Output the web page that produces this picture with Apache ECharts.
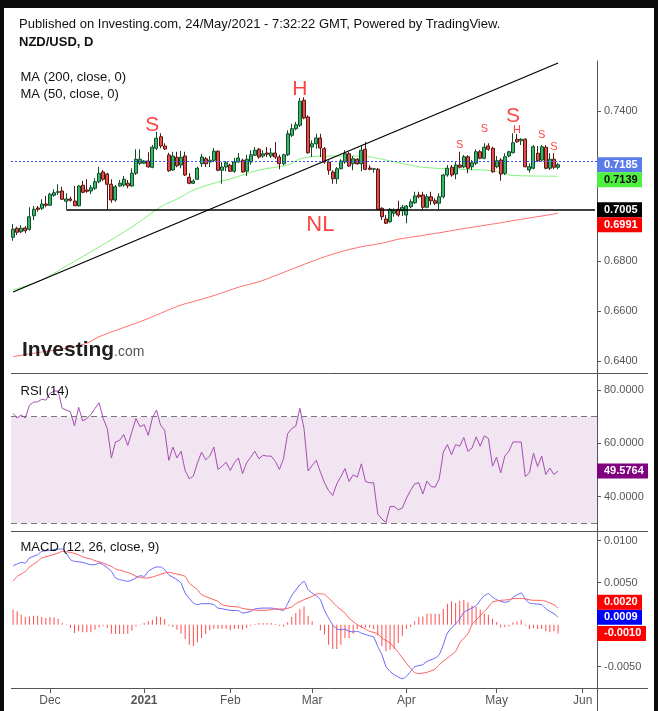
<!DOCTYPE html>
<html>
<head>
<meta charset="utf-8">
<script src="https://cdn.jsdelivr.net/npm/echarts@6.0.0/dist/echarts.min.js"></script>
<style>
html,body{margin:0;padding:0;background:#fff;}
#chart{width:658px;height:711px;}
</style>
</head>
<body>
<div id="chart"></div>
<script>
// ---------------- data ----------------
const startDate = '2020-11-18';
const categoryCount = 143;
const tickDates  = ['2020-12-01','2021-01-01','2021-02-01','2021-03-01','2021-04-01','2021-05-03','2021-06-01'];
const tickLabels = ['Dec','2021','Feb','Mar','Apr','May','Jun'];

const opens = [0.6895,0.6931,0.6917,0.6932,0.6927,0.6981,0.7012,0.7011,0.7028,0.7023,
0.7063,0.7075,0.7080,0.7039,0.7048,0.7040,0.7021,0.7103,0.7084,0.7080,
0.7091,0.7117,0.7156,0.7148,0.7107,0.7044,0.7100,0.7104,0.7111,0.7100,
0.7151,0.7191,0.7191,0.7200,0.7175,0.7251,0.7297,0.7260,0.7224,0.7164,
0.7215,0.7184,0.7220,0.7135,0.7111,0.7127,0.7189,0.7209,0.7196,0.7203,
0.7239,0.7163,0.7176,0.7183,0.7159,0.7196,0.7203,0.7159,0.7196,0.7223,
0.7247,0.7220,0.7232,0.7220,0.7232,0.7216,0.7189,0.7225,0.7303,0.7329,
0.7343,0.7443,0.7376,0.7256,0.7269,0.7292,0.7249,0.7196,0.7156,0.7129,
0.7169,0.7196,0.7229,0.7189,0.7207,0.7189,0.7247,0.7172,0.7167,0.7167,
0.7011,0.6968,0.6957,0.6991,0.7007,0.7001,0.6984,0.7017,0.7033,0.7064,
0.7064,0.7015,0.7057,0.7041,0.7031,0.7057,0.7144,0.7175,0.7148,0.7184,
0.7177,0.7217,0.7177,0.7191,0.7237,0.7211,0.7260,0.7251,0.7177,0.7204,
0.7151,0.7220,0.7233,0.7287,0.7281,0.7287,0.7164,0.7171,0.7231,0.7204,
0.7255,0.7171,0.7207,0.7175];
const closes = [0.6927,0.6915,0.6931,0.6921,0.6977,0.7007,0.7007,0.7028,0.7023,0.7067,
0.7073,0.7077,0.7047,0.7048,0.7043,0.7021,0.7100,0.7075,0.7079,0.7093,
0.7117,0.7151,0.7127,0.7107,0.7044,0.7097,0.7111,0.7127,0.7101,0.7151,
0.7207,0.7207,0.7200,0.7177,0.7255,0.7291,0.7260,0.7248,0.7161,0.7220,
0.7181,0.7215,0.7144,0.7111,0.7120,0.7171,0.7216,0.7189,0.7203,0.7239,
0.7163,0.7176,0.7193,0.7159,0.7196,0.7212,0.7156,0.7207,0.7225,0.7243,
0.7216,0.7229,0.7227,0.7232,0.7216,0.7189,0.7225,0.7309,0.7329,0.7345,
0.7439,0.7372,0.7233,0.7269,0.7292,0.7252,0.7196,0.7163,0.7129,0.7169,
0.7200,0.7229,0.7180,0.7209,0.7189,0.7243,0.7167,0.7167,0.7169,0.7007,
0.6977,0.6951,0.7007,0.7001,0.6984,0.7015,0.7020,0.7037,0.7060,0.7057,
0.7015,0.7057,0.7041,0.7031,0.7057,0.7144,0.7171,0.7144,0.7184,0.7175,
0.7217,0.7171,0.7193,0.7237,0.7211,0.7255,0.7247,0.7157,0.7201,0.7148,
0.7217,0.7237,0.7273,0.7277,0.7287,0.7177,0.7177,0.7257,0.7201,0.7257,
0.7171,0.7207,0.7175,0.7185];
const lows = [0.6881,0.6904,0.6911,0.6911,0.6921,0.6964,0.6997,0.7004,0.7015,0.7020,
0.7057,0.7064,0.7044,0.7007,0.7037,0.7020,0.7017,0.7071,0.7073,0.7068,
0.7084,0.7111,0.7120,0.7007,0.7033,0.7037,0.7097,0.7097,0.7091,0.7097,
0.7144,0.7184,0.7188,0.7173,0.7171,0.7244,0.7251,0.7244,0.7157,0.7160,
0.7175,0.7171,0.7140,0.7107,0.7108,0.7124,0.7176,0.7176,0.7176,0.7196,
0.7159,0.7109,0.7159,0.7156,0.7153,0.7193,0.7153,0.7140,0.7185,0.7220,
0.7209,0.7212,0.7216,0.7212,0.7209,0.7167,0.7183,0.7220,0.7296,0.7323,
0.7336,0.7367,0.7229,0.7216,0.7249,0.7216,0.7189,0.7145,0.7109,0.7109,
0.7167,0.7189,0.7176,0.7163,0.7185,0.7159,0.7163,0.7163,0.7153,0.7003,
0.6964,0.6948,0.6953,0.6977,0.6977,0.6980,0.6951,0.7011,0.7028,0.7051,
0.7004,0.7011,0.7024,0.7024,0.7007,0.7051,0.7137,0.7137,0.7127,0.7171,
0.7171,0.7151,0.7164,0.7184,0.7207,0.7207,0.7241,0.7153,0.7171,0.7121,
0.7144,0.7215,0.7231,0.7273,0.7264,0.7175,0.7153,0.7167,0.7197,0.7197,
0.7167,0.7164,0.7167,0.7167];
const highs = [0.6948,0.6937,0.6944,0.6940,0.7015,0.7020,0.7020,0.7047,0.7060,0.7073,
0.7087,0.7107,0.7097,0.7071,0.7057,0.7100,0.7104,0.7120,0.7127,0.7104,
0.7131,0.7177,0.7164,0.7153,0.7127,0.7104,0.7124,0.7140,0.7124,0.7171,
0.7247,0.7247,0.7204,0.7235,0.7264,0.7317,0.7311,0.7271,0.7233,0.7237,
0.7237,0.7240,0.7237,0.7151,0.7127,0.7177,0.7229,0.7216,0.7220,0.7252,
0.7243,0.7196,0.7199,0.7189,0.7212,0.7232,0.7209,0.7225,0.7243,0.7256,
0.7252,0.7243,0.7256,0.7252,0.7276,0.7225,0.7229,0.7323,0.7349,0.7356,
0.7452,0.7455,0.7383,0.7283,0.7309,0.7309,0.7256,0.7203,0.7163,0.7176,
0.7207,0.7243,0.7236,0.7220,0.7212,0.7263,0.7276,0.7183,0.7172,0.7172,
0.7015,0.6984,0.7011,0.7011,0.7041,0.7024,0.7024,0.7047,0.7077,0.7077,
0.7077,0.7068,0.7077,0.7051,0.7071,0.7148,0.7184,0.7184,0.7197,0.7237,
0.7224,0.7224,0.7204,0.7247,0.7244,0.7271,0.7271,0.7257,0.7220,0.7211,
0.7231,0.7241,0.7311,0.7308,0.7291,0.7291,0.7191,0.7264,0.7260,0.7264,
0.7264,0.7231,0.7231,0.7193];

// moving averages, read at points along the curves (bar index, value)
const ma50Idx = [0,7,13,21,29,36,41,44,50,53,60,67,70,75,80,85,88,93,100,109,117,121,127,133];
const ma50Val = [0.6684,0.6724,0.6780,0.6856,0.6936,0.7016,0.7056,0.7084,0.7116,0.7128,0.7164,0.7184,0.7208,0.7220,0.7220,0.7220,0.7214,0.7197,0.7175,0.7167,0.7161,0.7144,0.7140,0.7139];
const ma200Idx = [0,5,13,18,21,26,31,36,41,46,50,55,60,65,70,75,80,85,90,94,99,104,109,114,119,124,129,133];
const ma200Val = [0.6417,0.6431,0.6451,0.6471,0.6497,0.6528,0.6557,0.6591,0.6624,0.6647,0.6667,0.6695,0.6717,0.6748,0.6780,0.6811,0.6837,0.6857,0.6871,0.6887,0.6900,0.6913,0.6927,0.6940,0.6953,0.6967,0.6980,0.6991];

// drawn lines
const necklineValue = 0.7005;
const necklineStartIdx = 13;
const trendIdx = [0,133];
const trendVal = [0.6676,0.7592];

// annotations
const annoText  = ['S','H','S','NL','S','S','H','S','S'];
const annoIdx   = [34,70,122,75,109,115,123,129,132];
const annoPrice = [0.7342,0.7486,0.7379,0.6944,0.7264,0.7327,0.7323,0.7304,0.7257];
const annoSize  = [21,21,21,22,11,11,11,11,11];

// RSI (14)
const rsi = [71.2,69.5,70.6,69.5,74.3,75.4,75.6,76.5,76.2,78.7,
79.6,79.6,73.1,72.5,71.8,66.5,73.5,68.4,69.3,70.8,
73.1,75.2,69.3,65.5,54.5,60.5,61.1,63.3,59.2,64.3,
69.3,66.2,67.0,63.0,69.5,72.5,66.8,64.9,53.6,58.6,
54.5,57.0,49.8,46.7,47.7,52.6,56.7,53.8,55.2,58.6,
50.2,51.4,52.9,49.8,52.7,54.5,48.6,52.7,54.8,57.0,
54.2,55.5,55.2,55.2,53.2,50.2,54.2,63.6,65.5,66.5,
73.1,65.5,49.6,51.7,53.6,49.2,45.2,42.3,40.4,44.8,
47.5,50.5,45.7,48.2,47.3,52.3,45.7,45.2,45.2,33.5,
31.6,30.3,36.3,36.3,35.1,35.7,39.4,42.3,44.8,45.2,
41.0,45.8,43.8,43.5,46.7,56.7,59.5,55.7,59.5,58.9,
62.2,57.0,58.2,62.4,58.9,62.8,61.8,51.4,54.8,48.9,
55.2,57.0,60.5,60.5,60.5,47.5,48.9,56.3,51.3,55.2,
48.3,50.7,48.3,49.5764];
const rsiBand = [30,70];

// MACD (12, 26, close, 9)
const macdHist = [0.00179,0.00159,0.00119,0.00091,0.00099,0.00107,0.00107,0.00091,0.00079,0.00091,
0.00087,0.00071,0.00020,-0.00008,-0.00040,-0.00099,-0.00079,-0.00091,-0.00091,-0.00091,
-0.00060,-0.00032,-0.00012,-0.00040,-0.00107,-0.00111,-0.00111,-0.00111,-0.00107,-0.00071,
-0.00020,-0.00008,0.00020,0.00040,0.00060,0.00099,0.00091,0.00067,-0.00012,-0.00028,
-0.00060,-0.00107,-0.00171,-0.00238,-0.00258,-0.00210,-0.00159,-0.00111,-0.00067,-0.00048,
-0.00048,-0.00048,-0.00048,-0.00067,-0.00052,-0.00048,-0.00060,-0.00040,-0.00012,0.00008,
0.00020,0.00020,0.00020,0.00020,0.00008,-0.00012,-0.00020,0.00028,0.00091,0.00139,
0.00187,0.00218,0.00107,0.00040,0.00000,-0.00067,-0.00120,-0.00238,-0.00290,-0.00290,
-0.00238,-0.00159,-0.00159,-0.00107,-0.00052,-0.00032,-0.00032,-0.00032,-0.00052,-0.00131,
-0.00258,-0.00317,-0.00298,-0.00290,-0.00218,-0.00131,-0.00052,-0.00025,0.00040,0.00091,
0.00099,0.00131,0.00131,0.00131,0.00131,0.00187,0.00250,0.00278,0.00258,0.00286,
0.00298,0.00266,0.00226,0.00210,0.00179,0.00131,0.00119,0.00067,0.00032,-0.00032,
-0.00028,-0.00020,0.00028,0.00040,0.00060,-0.00012,-0.00052,-0.00040,-0.00052,-0.00052,
-0.00079,-0.00091,-0.00079,-0.00104];
const macdIdx = [0,1,2,3,4,6,7,9,11,12,13,14,15,17,19,20,21,22,24,25,26,27,28,30,31,32,33,35,36,37,38,40,41,42,44,45,46,48,49,50,51,53,55,56,58,59,61,63,64,66,67,68,70,71,72,73,74,75,76,77,78,79,80,81,82,83,84,85,87,88,89,90,91,92,93,95,96,97,98,100,101,103,104,105,106,108,109,110,112,113,114,115,116,117,118,120,121,122,124,125,126,127,129,130,131,132,133];
const macdVal = [0.00702,0.00722,0.00742,0.00734,0.00794,0.00833,0.00873,0.00885,0.00901,0.00901,0.00853,0.00774,0.00754,0.00742,0.00714,0.00714,0.00734,0.00714,0.00635,0.00556,0.00536,0.00528,0.00516,0.00556,0.00583,0.00575,0.00635,0.00687,0.00687,0.00655,0.00595,0.00536,0.00496,0.00377,0.00258,0.00238,0.00250,0.00250,0.00238,0.00198,0.00190,0.00171,0.00167,0.00139,0.00159,0.00187,0.00198,0.00198,0.00190,0.00171,0.00250,0.00345,0.00476,0.00516,0.00417,0.00377,0.00345,0.00298,0.00170,0.00079,0.00000,-0.00052,-0.00060,-0.00052,-0.00079,-0.00085,-0.00079,-0.00100,-0.00131,-0.00147,-0.00260,-0.00357,-0.00496,-0.00556,-0.00595,-0.00643,-0.00615,-0.00556,-0.00500,-0.00476,-0.00437,-0.00397,-0.00357,-0.00238,-0.00099,0.00012,0.00067,0.00147,0.00200,0.00226,0.00290,0.00345,0.00369,0.00329,0.00298,0.00266,0.00278,0.00325,0.00377,0.00306,0.00258,0.00250,0.00238,0.00190,0.00159,0.00131,0.00090];
const sigIdx = [0,1,3,4,6,7,9,11,12,14,16,17,19,20,22,24,25,27,29,30,32,33,35,37,38,40,42,43,45,46,48,50,51,53,55,56,58,60,61,63,64,66,68,69,71,73,74,75,76,77,79,81,82,84,86,87,89,90,92,94,95,97,98,99,101,103,104,106,108,109,111,112,114,116,117,119,121,122,124,125,127,129,130,132,133];
const sigVal = [0.00516,0.00575,0.00635,0.00687,0.00754,0.00794,0.00821,0.00853,0.00873,0.00861,0.00833,0.00806,0.00782,0.00762,0.00734,0.00694,0.00663,0.00635,0.00603,0.00575,0.00556,0.00556,0.00583,0.00615,0.00623,0.00603,0.00575,0.00496,0.00417,0.00357,0.00317,0.00278,0.00238,0.00218,0.00210,0.00194,0.00179,0.00171,0.00171,0.00179,0.00187,0.00187,0.00210,0.00250,0.00298,0.00337,0.00365,0.00368,0.00360,0.00320,0.00218,0.00139,0.00079,0.00000,-0.00052,-0.00079,-0.00107,-0.00159,-0.00218,-0.00330,-0.00395,-0.00520,-0.00570,-0.00582,-0.00567,-0.00528,-0.00476,-0.00397,-0.00317,-0.00218,-0.00107,0.00000,0.00107,0.00210,0.00270,0.00290,0.00298,0.00310,0.00313,0.00306,0.00290,0.00290,0.00278,0.00238,0.00198];

// axis label values
const priceTicks = [0.64,0.66,0.68,0.74];
const rsiTicks = [40,60,80];
const macdTicks = [-0.005,0.005,0.01];

// ---------------- chart ----------------
const FF = '"Liberation Sans", Arial, Helvetica, sans-serif';
const dates = [];
{
  let d = new Date(startDate + 'T00:00:00Z');
  while (dates.length < categoryCount) {
    const w = d.getUTCDay();
    if (w !== 0 && w !== 6) dates.push(d.toISOString().slice(0, 10));
    d = new Date(d.getTime() + 86400000);
  }
}
const N = opens.length;
const candleData = opens.map((o, i) => [o, closes[i], lows[i], highs[i]]);
const pairs = (idx, val) => idx.map((k, j) => [dates[k], val[j]]);
const isTick = (i, v) => tickDates.indexOf(v) >= 0;

const GL = 11, GW = 586;
const grids = [
  {left: GL, width: GW, top: 61, height: 312},
  {left: GL, width: GW, top: 374, height: 157},
  {left: GL, width: GW, top: 531, height: 157}
];
const AX = '#555';
function xAxisFor(gi, showLabels) {
  return {
    type: 'category', gridIndex: gi, data: dates, boundaryGap: true, position: 'bottom',
    axisLine: {show: false, onZero: false},
    axisTick: showLabels ? {show: true, interval: isTick, alignWithLabel: true, length: 5, lineStyle: {color: AX}} : {show: false},
    axisLabel: showLabels ? {
      show: true, interval: isTick, color: AX, fontSize: 12, margin: 7, fontFamily: FF,
      formatter: (v) => { const k = tickDates.indexOf(v); return k === 1 ? '{b|' + tickLabels[k] + '}' : tickLabels[k]; },
      rich: {b: {fontWeight: 'bold', fontSize: 12, color: AX, fontFamily: FF}}
    } : {show: false},
    splitLine: {show: false}
  };
}
function yAxisFor(gi, min, max, ticks) {
  return {
    type: 'value', gridIndex: gi, position: 'right', min: min, max: max,
    axisLine: {show: true, lineStyle: {color: AX, width: 1}},
    axisTick: {show: true, length: 4, customValues: ticks, lineStyle: {color: AX}},
    axisLabel: {show: true, customValues: ticks, formatter: (v) => v.toFixed(4), color: AX, fontSize: 11, margin: 7, fontFamily: FF},
    splitLine: {show: false}
  };
}

function staticGraphics() {
  const t = (id, text, x, y, font, fill) => ({type: 'text', id, x, y, z: 100,
    style: {text, font, fill, verticalAlign: 'middle', align: 'left'}});
  const ln = (id, x1, y1, x2, y2) => ({type: 'line', id, z: 90, shape: {x1, y1, x2, y2}, style: {stroke: AX, lineWidth: 1}});
  return [
    {type: 'rect', id: 'bt', z: 120, shape: {x: 0, y: 0, width: 658, height: 8}, style: {fill: '#0b0b0b'}},
    {type: 'rect', id: 'bl', z: 120, shape: {x: 0, y: 0, width: 4, height: 711}, style: {fill: '#0b0b0b'}},
    {type: 'rect', id: 'br', z: 120, shape: {x: 654, y: 0, width: 4, height: 711}, style: {fill: '#0b0b0b'}},
    t('pub', 'Published on Investing.com, 24/May/2021 - 7:32:22 GMT, Powered by TradingView.', 19, 24, '13px ' + FF, '#111'),
    t('sym', 'NZD/USD, D', 19, 42, 'bold 13px ' + FF, '#111'),
    t('ma200t', 'MA (200, close, 0)', 20.5, 77.5, '13px ' + FF, '#111'),
    t('ma50t', 'MA (50, close, 0)', 20.5, 94.3, '13px ' + FF, '#111'),
    t('rsit', 'RSI (14)', 20.5, 391, '13px ' + FF, '#111'),
    t('macdt', 'MACD (12, 26, close, 9)', 20.5, 547.3, '13px ' + FF, '#111'),
    {type: 'text', id: 'logo1', x: 22, y: 350, z: 100, style: {text: 'Investing', font: 'bold 21px ' + FF, fill: '#1e1e1e', verticalAlign: 'middle', align: 'left'}},
    {type: 'text', id: 'logo2', x: 114, y: 352.5, z: 100, style: {text: '.com', font: '14px ' + FF, fill: '#555', verticalAlign: 'middle', align: 'left'}},
    ln('s1', GL, 373.5, 648, 373.5),
    ln('s2', GL, 531.5, 648, 531.5),
    ln('s3', GL, 688.5, 648, 688.5),
    ln('s4', 597.5, 688, 597.5, 711)
  ];
}

const option = {
  animation: false,
  backgroundColor: '#ffffff',
  textStyle: {fontFamily: FF},
  grid: grids,
  xAxis: [xAxisFor(0, false), xAxisFor(1, false), xAxisFor(2, true)],
  yAxis: [
    yAxisFor(0, 0.6352, 0.7600, priceTicks),
    yAxisFor(1, 27.1, 86.0, rsiTicks),
    yAxisFor(2, -0.007536, 0.011155, macdTicks)
  ],
  series: [
    {
      type: 'line', name: 'MA200', xAxisIndex: 0, yAxisIndex: 0, data: pairs(ma200Idx, ma200Val),
      showSymbol: false, smooth: 0.3, lineStyle: {color: '#ff6f6f', width: 1}, z: 1, silent: true
    },
    {
      type: 'line', name: 'MA50', xAxisIndex: 0, yAxisIndex: 0, data: pairs(ma50Idx, ma50Val),
      showSymbol: false, smooth: 0.3, lineStyle: {color: '#85f27c', width: 1}, z: 1, silent: true
    },
    {
      type: 'candlestick', name: 'NZD/USD', xAxisIndex: 0, yAxisIndex: 0, data: candleData, z: 3,
      barWidth: 3.5,
      itemStyle: {color: '#3ab56c', color0: '#e2504a', borderColor: '#124d2a', borderColor0: '#5a1512', borderWidth: 1},
      markLine: {
        silent: true, symbol: ['none', 'none'], label: {show: false}, animation: false,
        data: [
          {yAxis: closes[N - 1], lineStyle: {color: '#2f55ee', type: [2, 2], width: 1}},
          [{coord: [dates[necklineStartIdx], necklineValue], lineStyle: {color: '#000', type: 'solid', width: 1.5}},
           {coord: [dates[categoryCount - 1], necklineValue]}],
          [{coord: [dates[trendIdx[0]], trendVal[0]], lineStyle: {color: '#000', type: 'solid', width: 1.3}},
           {coord: [dates[trendIdx[1]], trendVal[1]]}]
        ]
      }
    },
    {
      type: 'scatter', name: 'anno', xAxisIndex: 0, yAxisIndex: 0, z: 6, silent: true,
      symbol: 'rect', symbolSize: 1, itemStyle: {color: 'rgba(0,0,0,0)'},
      data: annoText.map((s, j) => ({
        value: [dates[annoIdx[j]], annoPrice[j]],
        label: {show: true, position: 'inside', formatter: s, color: '#ff1414', fontSize: annoSize[j], fontFamily: FF}
      }))
    },
    {
      type: 'line', name: 'RSI', xAxisIndex: 1, yAxisIndex: 1, data: rsi, showSymbol: false, silent: true,
      lineStyle: {color: '#a64db4', width: 1}, z: 3,
      markArea: {silent: true, itemStyle: {color: '#f1e5f2'}, data: [[{yAxis: rsiBand[0]}, {yAxis: rsiBand[1]}]]},
      markLine: {silent: true, symbol: ['none', 'none'], label: {show: false},
        lineStyle: {color: '#777', type: [6, 4], width: 1}, data: [{yAxis: rsiBand[1]}, {yAxis: rsiBand[0]}]}
    },
    {
      type: 'bar', name: 'Histogram', xAxisIndex: 2, yAxisIndex: 2, data: macdHist, barWidth: 1, silent: true,
      itemStyle: {color: '#ff4d4d'}
    },
    {
      type: 'line', name: 'MACD', xAxisIndex: 2, yAxisIndex: 2, data: pairs(macdIdx, macdVal), showSymbol: false,
      smooth: 0.2, silent: true, lineStyle: {color: '#6464ff', width: 1}, z: 4
    },
    {
      type: 'line', name: 'Signal', xAxisIndex: 2, yAxisIndex: 2, data: pairs(sigIdx, sigVal), showSymbol: false,
      smooth: 0.2, silent: true, lineStyle: {color: '#ff5c5c', width: 1}, z: 4
    }
  ],
  graphic: {elements: staticGraphics()}
};

const chart = echarts.init(document.getElementById('chart'), null, {renderer: 'canvas'});
chart.setOption(option);

// right-axis value tags (last values), laid out so they don't overlap
const tags = [
  {axis: 0, v: closes[N - 1], bg: '#5b7be6', fg: '#ffffff'},
  {axis: 0, v: ma50Val[ma50Val.length - 1], bg: '#4df03f', fg: '#0a0a0a'},
  {axis: 0, v: necklineValue, bg: '#000000', fg: '#ffffff'},
  {axis: 0, v: ma200Val[ma200Val.length - 1], bg: '#ff0000', fg: '#ffffff'},
  {axis: 1, v: rsi[N - 1], bg: '#800080', fg: '#ffffff'},
  {axis: 2, v: macdVal[macdVal.length - 1], bg: '#0000ff', fg: '#ffffff'},
  {axis: 2, v: sigVal[sigVal.length - 1], bg: '#ff0000', fg: '#ffffff'},
  {axis: 2, v: macdHist[N - 1], bg: '#ff0000', fg: '#ffffff'}
];
const H = 15;
const placed = {0: [], 1: [], 2: []};
const tagEls = [];
tags.forEach((t, j) => {
  const want = chart.convertToPixel({yAxisIndex: t.axis}, t.v);
  let cy = want;
  for (let g = 0; g < 10; g++) {
    let moved = false;
    for (const p of placed[t.axis]) {
      if (Math.abs(cy - p) < H - 0.01) { cy = (want < p) ? p - H : p + H; moved = true; }
    }
    if (!moved) break;
  }
  placed[t.axis].push(cy);
  tagEls.push({type: 'rect', id: 'tagbg' + j, z: 110, shape: {x: 597, y: cy - H / 2, width: (t.axis === 1 ? 51 : (t.v < 0 ? 49 : 45)), height: H}, style: {fill: t.bg}});
  tagEls.push({type: 'text', id: 'tagtx' + j, z: 111, x: 604, y: cy, style: {text: t.v.toFixed(4), font: 'bold 11px ' + FF, fill: t.fg, verticalAlign: 'middle', align: 'left'}});
});
option.graphic = {elements: staticGraphics().concat(tagEls)};
chart.setOption(option, true);
</script>
</body>
</html>
